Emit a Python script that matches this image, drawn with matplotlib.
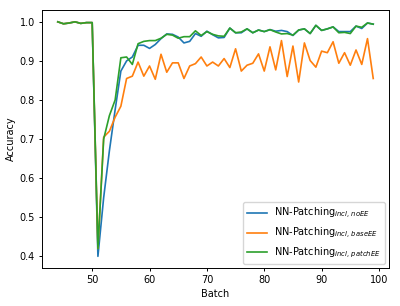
import matplotlib
matplotlib.use("Agg")
import matplotlib.pyplot as plt

# batches 44..99
batches = list(range(44, 100))

acc_no_ee = [
    1.000, 0.995, 0.997, 1.000, 0.996, 0.998, 0.998,  # 44-50
    0.400, 0.550, 0.670, 0.775, 0.874, 0.900, 0.910, 0.940, 0.940, 0.932,  # 51-60
    0.942, 0.957, 0.969, 0.968, 0.961, 0.946, 0.950, 0.970, 0.963, 0.976,  # 61-70
    0.967, 0.959, 0.960, 0.984, 0.972, 0.972, 0.982, 0.972, 0.979, 0.975,  # 71-80
    0.980, 0.976, 0.978, 0.975, 0.965, 0.979, 0.982, 0.970, 0.991, 0.978,  # 81-90
    0.982, 0.987, 0.975, 0.975, 0.975, 0.989, 0.983, 0.997, 0.994,  # 91-99
]

acc_base_ee = [
    1.000, 0.995, 0.997, 1.000, 0.996, 0.998, 0.998,
    0.420, 0.705, 0.720, 0.756, 0.784, 0.855, 0.861, 0.897, 0.861, 0.887,
    0.853, 0.917, 0.871, 0.895, 0.895, 0.855, 0.887, 0.893, 0.910, 0.887,
    0.897, 0.887, 0.906, 0.883, 0.931, 0.874, 0.889, 0.894, 0.918, 0.874,
    0.936, 0.877, 0.952, 0.860, 0.938, 0.846, 0.946, 0.901, 0.884, 0.925,
    0.921, 0.949, 0.894, 0.921, 0.889, 0.928, 0.891, 0.957, 0.855,
]

acc_patch_ee = [
    1.000, 0.995, 0.997, 1.000, 0.996, 0.998, 0.998,
    0.420, 0.700, 0.760, 0.800, 0.908, 0.910, 0.891, 0.944, 0.950, 0.952,
    0.952, 0.958, 0.968, 0.966, 0.958, 0.962, 0.962, 0.977, 0.965, 0.975,
    0.968, 0.964, 0.963, 0.984, 0.972, 0.974, 0.982, 0.972, 0.979, 0.975,
    0.980, 0.974, 0.969, 0.970, 0.966, 0.979, 0.982, 0.970, 0.991, 0.978,
    0.982, 0.987, 0.972, 0.973, 0.970, 0.989, 0.986, 0.997, 0.994,
]

labels = [
    r"NN-Patching$_{incl,\,noEE}$",
    r"NN-Patching$_{incl,\,baseEE}$",
    r"NN-Patching$_{incl,\,patchEE}$",
]

plt.rcParams["font.size"] = 7

fig = plt.figure(figsize=(4.0, 3.06), dpi=100)
ax = fig.add_axes([0.105, 0.124, 0.8675, 0.843])

ax.plot(batches, acc_no_ee, color="#1f77b4", linewidth=1.2, label=labels[0])
ax.plot(batches, acc_base_ee, color="#ff7f0e", linewidth=1.2, label=labels[1])
ax.plot(batches, acc_patch_ee, color="#2ca02c", linewidth=1.2, label=labels[2])

ax.set_xlabel("Batch", labelpad=3)
ax.set_ylabel("Accuracy", labelpad=3)
ax.tick_params(length=2.5, width=0.7, pad=2.5)
for s in ax.spines.values():
    s.set_linewidth(0.7)
ax.legend(loc="lower right", fontsize=7, borderaxespad=0.4)

fig.savefig("out.png", dpi=100)
